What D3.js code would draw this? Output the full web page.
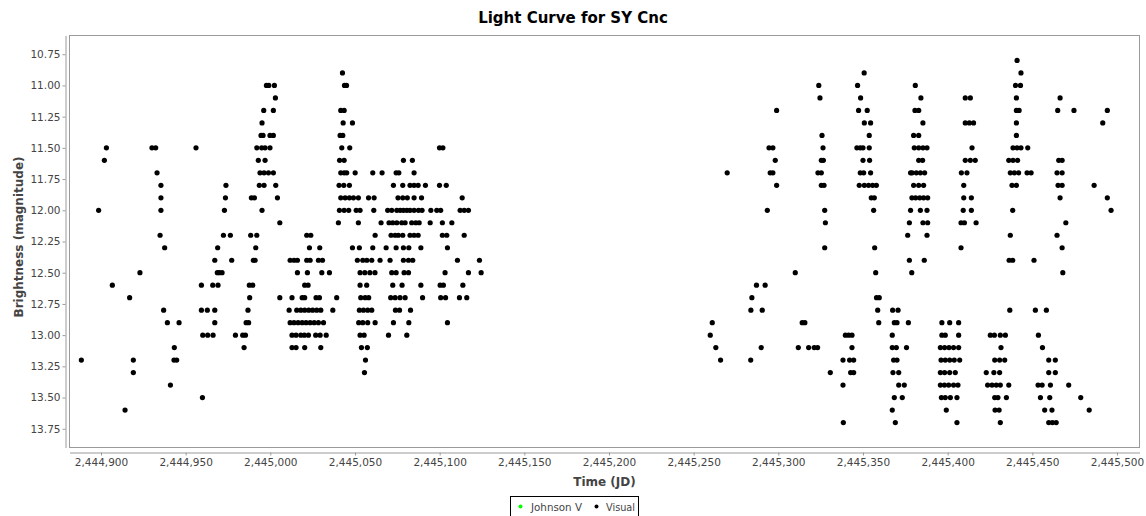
<!DOCTYPE html>
<html>
<head>
<meta charset="utf-8">
<script src="https://cdn.jsdelivr.net/npm/d3@7"></script>
<style>
	body { margin: 0; background: #fff; }
	svg { display: block; font-family: "DejaVu Sans", sans-serif; }
</style>
</head>
<body>
<div id="chart"></div>
<script>
// Observations are stored as days after JD 2,444,900, grouped by magnitude
const jdBase = 2444900;

// first season of visual estimates
const season1Rows = [
	[10.9, [142.6]],
	[11.0, [97.7, 99.1, 102.4, 143.8, 145.0]],
	[11.1, [103.0]],
	[11.2, [96.1, 101.8, 141.6, 143.6]],
	[11.3, [95.1, 143.0, 148.5]],
	[11.4, [94.5, 95.7, 99.8, 101.8, 141.2, 142.8]],
	[11.5, [3.2, 30.1, 32.3, 56.1, 92.0, 94.9, 96.9, 99.8, 142.2, 146.9, 199.9, 201.9]],
	[11.6, [2.0, 92.9, 96.9, 140.9, 143.6, 178.6, 183.9]],
	[11.7, [33.1, 93.9, 96.3, 98.9, 101.8, 141.6, 143.6, 145.1, 150.1, 160.5, 166.0, 174.3, 175.9, 184.9]],
	[11.8, [35.4, 73.8, 93.5, 96.3, 103.2, 140.6, 143.4, 146.7, 172.7, 178.2, 182.5, 184.9, 187.3, 191.6, 199.9, 203.9]],
	[11.9, [35.4, 73.5, 88.8, 90.6, 104.2, 141.6, 144.2, 146.7, 149.1, 152.0, 158.0, 161.3, 175.4, 178.2, 180.9, 184.9, 189.3, 213.3]],
	[12.0, [-1.4, 35.4, 72.9, 95.1, 140.8, 143.6, 146.3, 150.7, 153.0, 161.1, 169.3, 171.7, 174.7, 176.7, 178.6, 180.6, 182.5, 184.9, 187.5, 189.6, 194.8, 198.3, 200.6, 212.1, 214.5, 217.0]],
	[12.1, [105.6, 140.2, 152.0, 165.4, 170.1, 172.3, 174.7, 177.6, 179.6, 183.5, 185.9, 187.9, 194.4, 201.6, 207.2]],
	[12.2, [34.9, 72.3, 76.4, 88.4, 92.0, 121.5, 123.9, 161.9, 171.3, 173.7, 175.6, 178.2, 182.5, 184.9, 187.3, 201.6, 204.2, 214.5]],
	[12.3, [37.6, 68.9, 91.4, 123.1, 129.2, 148.5, 152.6, 160.5, 168.4, 174.3, 178.6, 181.8, 188.9, 204.6]],
	[12.4, [67.2, 77.2, 90.0, 91.0, 111.7, 114.0, 116.0, 121.5, 123.5, 128.4, 130.8, 151.4, 154.6, 157.0, 159.9, 164.8, 170.7, 178.6, 181.6, 184.1, 210.5, 223.5]],
	[12.5, [23.0, 68.7, 69.9, 71.5, 116.0, 121.9, 130.4, 134.9, 153.0, 155.8, 158.8, 161.8, 171.7, 174.3, 179.0, 181.6, 203.2, 217.0, 224.5]],
	[12.6, [6.7, 59.3, 66.0, 69.1, 87.6, 89.6, 120.3, 122.3, 153.0, 156.9, 172.3, 177.8, 188.9, 200.3, 202.2, 213.7]],
	[12.7, [16.9, 87.8, 105.6, 112.8, 118.8, 120.3, 127.0, 129.0, 139.2, 153.4, 156.0, 158.1, 171.1, 173.7, 176.6, 179.6, 189.9, 200.6, 203.5, 211.7, 216.0]],
	[12.8, [37.0, 59.3, 62.8, 67.2, 86.8, 111.1, 115.6, 118.0, 120.3, 122.7, 125.0, 127.4, 129.8, 136.9, 152.6, 155.0, 157.5, 159.9, 173.9, 176.3, 182.8]],
	[12.9, [39.2, 46.1, 67.2, 85.7, 87.2, 111.7, 114.0, 116.4, 118.8, 121.1, 123.5, 125.9, 128.4, 131.4, 152.2, 154.6, 157.5, 161.9, 172.7, 181.8, 204.6]],
	[13.0, [60.1, 63.0, 66.2, 79.4, 83.7, 85.3, 112.8, 115.2, 118.0, 120.1, 122.5, 126.8, 129.4, 133.0, 153.0, 155.4, 169.8, 180.6]],
	[13.1, [43.3, 84.5, 112.8, 115.2, 120.3, 129.8, 153.8, 157.3]],
	[13.2, [-11.6, 19.1, 43.1, 44.7, 156.2]],
	[13.3, [19.1, 155.6]],
	[13.4, [41.0]],
	[13.5, [59.9]],
	[13.6, [14.2]]
];

// second season of visual estimates
const season2Rows = [
	[10.8, [541.0]],
	[10.9, [450.7, 543.3]],
	[11.0, [423.9, 446.8, 480.9, 540.1, 543.0]],
	[11.1, [424.6, 448.6, 484.2, 510.4, 513.4, 540.6, 566.4]],
	[11.2, [399.0, 447.4, 452.5, 480.7, 482.9, 540.6, 542.2, 565.0, 574.6, 594.3]],
	[11.3, [450.8, 454.5, 485.4, 510.4, 512.8, 515.3, 540.6, 591.6]],
	[11.4, [425.8, 453.7, 479.9, 482.9, 540.6]],
	[11.5, [394.5, 396.8, 426.4, 446.4, 448.4, 450.0, 453.7, 480.3, 482.9, 485.4, 487.8, 514.4, 538.6, 541.0, 543.3, 547.3]],
	[11.6, [398.2, 425.4, 426.6, 450.0, 453.9, 482.9, 485.2, 510.4, 513.4, 516.3, 536.1, 538.6, 541.3, 565.6, 567.6]],
	[11.7, [369.8, 395.2, 396.8, 423.4, 425.4, 448.4, 450.4, 454.5, 478.1, 479.0, 481.5, 483.9, 486.4, 508.1, 511.4, 537.0, 539.4, 541.9, 546.9, 549.3, 564.6, 567.6]],
	[11.8, [399.0, 425.4, 427.0, 447.8, 450.8, 453.3, 455.7, 457.9, 479.9, 482.9, 485.8, 509.5, 538.0, 540.6, 565.2, 567.6, 586.5]],
	[11.9, [454.9, 456.7, 478.9, 481.1, 483.5, 485.8, 488.2, 509.5, 514.0, 566.4, 594.3]],
	[12.0, [393.5, 427.4, 456.3, 478.1, 483.9, 487.8, 509.2, 514.0, 538.4, 596.5]],
	[12.1, [427.8, 477.4, 485.4, 488.2, 507.9, 509.9, 516.8, 569.8]],
	[12.2, [476.4, 487.8, 537.0, 564.6]],
	[12.3, [427.4, 456.9, 507.9, 567.6]],
	[12.4, [477.4, 486.2, 536.3, 538.4, 551.0]],
	[12.5, [410.0, 457.5, 478.8, 568.0]],
	[12.6, [387.1, 392.2]],
	[12.7, [384.4, 458.0, 459.6]],
	[12.8, [383.8, 390.5, 458.7, 467.5, 470.7, 536.7, 551.8, 558.3]],
	[12.9, [361.0, 414.1, 415.7, 459.3, 468.5, 470.1, 476.8, 496.6, 501.2, 506.5]],
	[13.0, [359.8, 439.6, 441.5, 443.5, 467.3, 496.6, 498.6, 506.5, 525.2, 527.6, 531.1, 534.1, 553.6]],
	[13.1, [363.1, 389.9, 411.8, 417.9, 421.2, 423.2, 443.5, 467.3, 469.7, 475.7, 495.7, 498.2, 500.8, 503.5, 506.5, 531.5, 556.0]],
	[13.2, [365.9, 383.7, 438.2, 442.1, 444.5, 468.1, 470.1, 496.1, 498.6, 501.2, 503.9, 507.1, 527.8, 530.7, 533.7, 559.7, 563.6]],
	[13.3, [430.7, 442.7, 444.5, 467.7, 471.1, 495.7, 498.2, 501.2, 504.5, 522.8, 527.3, 530.7, 559.7, 563.6]],
	[13.4, [438.2, 471.1, 474.4, 495.7, 498.1, 500.6, 503.5, 506.1, 523.6, 526.2, 528.7, 531.1, 536.1, 553.4, 555.8, 560.7, 571.5]],
	[13.5, [468.5, 473.2, 496.3, 498.6, 501.6, 505.5, 527.8, 529.7, 534.7, 554.8, 560.3, 578.6]],
	[13.6, [467.3, 499.2, 528.0, 530.4, 557.3, 561.6, 583.6]],
	[13.7, [438.4, 469.1, 505.5, 531.1, 559.7, 561.9, 564.1]]
];

// Johnson V has no points in this range, only the legend entry
const johnsonVRows = [];

const xTicks = [2444900, 2444950, 2445000, 2445050, 2445100, 2445150, 2445200,
	2445250, 2445300, 2445350, 2445400, 2445450, 2445500];
const yTicks = [10.75, 11.00, 11.25, 11.50, 11.75, 12.00, 12.25, 12.50, 12.75, 13.00, 13.25, 13.50, 13.75];
const seriesNames = ["Johnson V", "Visual"];
const seriesColours = ["#00ff00", "#000000"];

drawChart();

// turn the [mag, [days]] rows into flat points
function flattenRows(rows) {
	const points = [];
	rows.forEach(function(row) {
		row[1].forEach(function(day) {
			points.push({'jd': jdBase + day, 'mag': row[0]});
		});
	});
	return points;
}

function drawChart() {
	const width = 1146;
	const height = 516;
	const plotLeft = 69.5;
	const plotRight = 1139.5;
	const plotTop = 35.5;
	const plotBottom = 447.5;

	const visualData = flattenRows(season1Rows).concat(flattenRows(season2Rows));
	const johnsonData = flattenRows(johnsonVRows);

	const xScale = d3.scaleLinear()
		.domain([2444881.4, 2445513.3])
		.range([plotLeft, plotRight]);

	// magnitudes run downwards, brighter on top
	const yScale = d3.scaleLinear()
		.domain([10.6, 13.9])
		.range([plotTop, plotBottom]);

	const svg = d3.select('#chart')
		.append('svg')
		.attr('width', width)
		.attr('height', height);

	// title
	svg.append('text')
		.attr('x', width / 2)
		.attr('y', 23)
		.attr('text-anchor', 'middle')
		.style('font-size', '15px')
		.style('font-weight', 'bold')
		.attr('fill', '#000')
		.text("Light Curve for SY Cnc");

	// plot frame
	svg.append('rect')
		.attr('x', plotLeft)
		.attr('y', plotTop)
		.attr('width', plotRight - plotLeft)
		.attr('height', plotBottom - plotTop)
		.attr('fill', '#fff')
		.attr('stroke', '#9a9a9a')
		.attr('stroke-width', 1);

	// x axis
	const xAxis = svg.append('g')
		.attr('transform', 'translate(0, 452.5)')
		.call(d3.axisBottom(xScale)
			.tickValues(xTicks)
			.tickSize(3)
			.tickSizeOuter(0)
			.tickPadding(3)
			.tickFormat(d3.format(',')));

	// y axis
	const yAxis = svg.append('g')
		.attr('transform', 'translate(65.5, 0)')
		.call(d3.axisLeft(yScale)
			.tickValues(yTicks)
			.tickSize(3)
			.tickSizeOuter(0)
			.tickPadding(2)
			.tickFormat(d3.format('.2f')));

	[xAxis, yAxis].forEach(function(axis) {
		axis.select('.domain').attr('stroke', '#9a9a9a');
		axis.selectAll('.tick line').attr('stroke', '#9a9a9a');
		axis.selectAll('.tick text')
			.attr('fill', '#444')
			.style('font-size', '10.5px')
			.style('font-family', '"DejaVu Sans", sans-serif');
	});

	// axis labels
	svg.append('text')
		.attr('x', (plotLeft + plotRight) / 2)
		.attr('y', 486)
		.attr('text-anchor', 'middle')
		.style('font-size', '12px')
		.style('font-weight', 'bold')
		.attr('fill', '#444')
		.text("Time (JD)");

	svg.append('text')
		.attr('transform', 'translate(23, 237) rotate(-90)')
		.attr('text-anchor', 'middle')
		.style('font-size', '12px')
		.style('font-weight', 'bold')
		.attr('fill', '#444')
		.text("Brightness (magnitude)");

	// points
	const canvas = svg.append('g');

	canvas.selectAll('circle.johnson')
		.data(johnsonData)
		.enter()
			.append('circle')
				.attr('class', 'johnson')
				.attr('cx', (d) => xScale(d.jd))
				.attr('cy', (d) => yScale(d.mag))
				.attr('r', 2.6)
				.attr('fill', seriesColours[0]);

	canvas.selectAll('circle.visual')
		.data(visualData)
		.enter()
			.append('circle')
				.attr('class', 'visual')
				.attr('cx', (d) => xScale(d.jd))
				.attr('cy', (d) => yScale(d.mag))
				.attr('r', 2.6)
				.attr('fill', seriesColours[1]);

	// legend box at the bottom
	const legend = svg.append('g');
	legend.append('rect')
		.attr('x', 510.5)
		.attr('y', 496.5)
		.attr('width', 128)
		.attr('height', 22)
		.attr('fill', '#fff')
		.attr('stroke', '#000')
		.attr('stroke-width', 1);

	const dotX = [520.5, 596.5];
	const labelX = [531, 606];
	const labelWidth = [51, 29];
	seriesNames.forEach(function(name, i) {
		legend.append('circle')
			.attr('cx', dotX[i])
			.attr('cy', 506.5)
			.attr('r', 2)
			.attr('fill', seriesColours[i]);
		legend.append('text')
			.attr('x', labelX[i])
			.attr('y', 510.5)
			.attr('fill', '#444')
			.attr('textLength', labelWidth[i])
			.attr('lengthAdjust', 'spacingAndGlyphs')
			.style('font-size', '10px')
			.text(name);
	});
}
</script>
</body>
</html>
